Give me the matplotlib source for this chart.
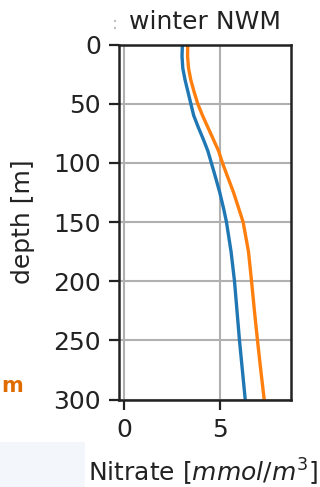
import matplotlib
matplotlib.use("Agg")
import matplotlib.pyplot as plt
import matplotlib.patches as mpatches

# depth levels [m] and nitrate profiles [mmol/m^3]
depth = [0, 10, 20, 30, 40, 50, 60, 70, 80, 90, 100, 110, 125, 140, 150,
         175, 200, 225, 250, 275, 300]
nitrate_blue = [3.03, 3.01, 3.05, 3.17, 3.32, 3.47, 3.62, 3.86, 4.12, 4.36, 4.54,
                4.72, 4.98, 5.20, 5.33, 5.57, 5.75, 5.88, 6.01, 6.16, 6.31]
nitrate_orange = [3.31, 3.30, 3.35, 3.47, 3.64, 3.83, 4.08, 4.36, 4.64, 4.92, 5.12,
                  5.35, 5.70, 6.00, 6.20, 6.48, 6.64, 6.79, 6.95, 7.12, 7.30]

xticks = [0, 5]
yticks = [0, 50, 100, 150, 200, 250, 300]

fig = plt.figure(figsize=(3.2, 4.87), dpi=100)

# leftover bits of the slide the figure was cut from
fig.patches.append(mpatches.Rectangle((0, 0), 85 / 320, 45 / 487, transform=fig.transFigure,
                                      facecolor="#f3f7fb", edgecolor="none", zorder=0))
fig.text(1 / 320, 1 - 392 / 487, "m", color="#e06c00", fontsize=15, fontweight="bold",
         ha="left", va="baseline")
fig.text(115 / 320, 1 - 24 / 487, ":", color="#bbbbbb", fontsize=13, ha="center", va="center")

ax = fig.add_axes([119 / 320, 1 - 399.5 / 487, 172 / 320, 355 / 487])
ax.plot(nitrate_blue, depth, color="#1f77b4", lw=2.4)
ax.plot(nitrate_orange, depth, color="#ff7f0e", lw=2.4)

ax.set_xlim(-0.28, 8.7)
ax.set_ylim(300, 0)
ax.set_xticks(xticks)
ax.set_yticks(yticks)
ax.grid(True, color="#b0b0b0", lw=1.5)
for s in ax.spines.values():
    s.set_linewidth(1.8)
    s.set_color("#222222")
ax.tick_params(labelsize=18, width=1.6, length=7, pad=6, colors="#222222")
ax.set_title("winter NWM", fontsize=18, pad=11, color="#222222")
ax.set_ylabel("depth [m]", fontsize=18, color="#222222")
ax.set_xlabel("Nitrate [$mmol/m^3$]", fontsize=18, color="#222222")
ax.yaxis.set_label_coords(-0.49, 0.5)
ax.xaxis.set_label_coords(0.488, -0.163)

fig.savefig("out.png", dpi=100)
